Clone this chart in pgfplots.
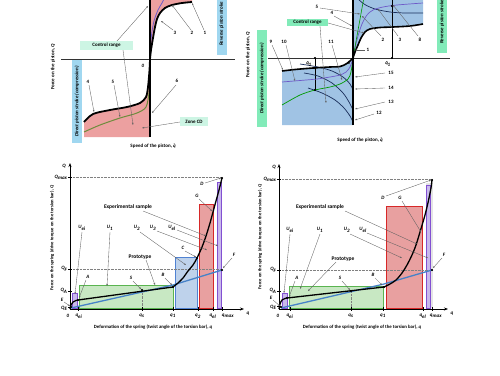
\documentclass[border=0pt]{standalone}
\usepackage{fontspec}
\setmainfont{Carlito}
\usepackage{pgfplots}
\pgfplotsset{compat=1.18}
\usetikzlibrary{arrows.meta}
\definecolor{pinkfill}{RGB}{236,160,160}
\definecolor{bluefill}{RGB}{160,195,228}
\definecolor{lblue}{RGB}{160,215,240}
\definecolor{mint}{RGB}{205,245,228}
\definecolor{mint2}{RGB}{130,235,185}
\definecolor{purp}{RGB}{110,90,200}
\definecolor{ogreen}{RGB}{110,140,60}
\definecolor{navy}{RGB}{25,45,90}
\definecolor{gfill}{RGB}{200,232,195}
\definecolor{gline}{RGB}{90,180,80}
\definecolor{bfill}{RGB}{190,210,235}
\definecolor{bline}{RGB}{80,130,210}
\definecolor{rfill}{RGB}{232,160,160}
\definecolor{rline}{RGB}{215,40,40}
\definecolor{pfill}{RGB}{200,185,235}
\definecolor{pline}{RGB}{130,80,210}
\definecolor{protoblue}{RGB}{70,130,200}
\newcommand{\sub}[2]{\textit{#1}\textsubscript{\textit{#2}}}
\newcommand{\qdot}{\textit{q}\kern-2.1pt\raisebox{2.7pt}{.}\kern0.5pt}
\pgfplotsset{panel/.style={hide axis, scale only axis, x=1pt, y=1pt, y dir=reverse, clip=false, anchor=north west}}
\tikzset{
 t/.style={font=\fontsize{5}{6}\selectfont\bfseries, inner sep=0.3pt},
 ti/.style={font=\fontsize{5}{6}\selectfont\bfseries\itshape, inner sep=0.3pt},
 ar/.style={draw=gray!75!black, line width=0.35pt, -{Stealth[length=2.2pt,width=1.6pt]}},
 axar/.style={line width=0.9pt, -{Stealth[length=4pt,width=3pt]}},
}
\begin{document}
\begin{tikzpicture}
\path[use as bounding box] (0,0) rectangle (500pt,-375pt);
\clip (0,0) rectangle (500pt,-375pt);
% ================= TOP LEFT =================
\begin{axis}[panel, xmin=0,xmax=250,ymin=0,ymax=150, at={(0pt,0pt)}]
\addplot[draw=none, fill=pinkfill] coordinates {(150,59)(151,50)(153,38)(155,27)(157,19)(160,13)(165,8)(172,5)(182,3)(192,2)(193,-10)(150,-10)} -- cycle;
\addplot[draw=none, fill=pinkfill] coordinates {(84,122)(93,114)(110,110)(127,107)(140,103)(146,97)(148,87)(149.5,70)(150,59)(150,137)(84,137)} -- cycle;
\addplot[black!80, line width=0.5pt] coordinates {(61,59)(235,59)};
\addplot[ogreen, line width=1pt, smooth] coordinates {(84,132)(100,125)(120,118)(137,113)(146,107)(149,93)(150,80)};
\addplot[purp, line width=0.8pt, smooth] coordinates {(150.5,48)(151.5,35)(154,21)(158,10)(162,3)(165,-3)};
\addplot[black, line width=1.8pt, smooth] coordinates {(84,122)(93,114)(110,110)(127,107)(140,103)(146,97)(148,87)(149.5,70)(150,59)};
\addplot[black, line width=1.8pt, smooth] coordinates {(150,59)(151,50)(153,38)(155,27)(157,19)(160,13)(165,8)(172,5)(182,3)(192,2)};
\addplot[black, line width=1.4pt] coordinates {(150,-5)(150,137)};
\node[t] at (205,33) {1}; \draw[ar] (204,30) -- (192,3);
\node[t] at (192,33) {2}; \draw[ar] (191,30) -- (172,5);
\node[t] at (175,33) {3}; \draw[ar] (173,30) -- (161,21);
\node[t] at (88,82) {4}; \draw[ar] (89,85) -- (94,112);
\node[t] at (113,82) {5}; \draw[ar] (114,85) -- (120,117);
\node[t] at (177,81) {6}; \draw[ar] (176,85) -- (152,113);
\node[ti] at (143,66) {0};
\draw[ar] (117,41) -- (148,6);
\draw[ar] (123,50) -- (133,125);
\node[t, fill=mint, minimum width=53pt, minimum height=9pt] at (106.5,45.5) {Control range};
\draw[ar] (180,122) -- (142,128);
\node[t, fill=mint, minimum width=28pt, minimum height=9pt] at (194,121.5) {Zone CD};
\node[ti, rotate=90, fill=lblue, minimum width=62pt, minimum height=10pt] at (221.5,24) {Reverse piston stroke};
\node[ti, rotate=90, fill=lblue, minimum width=83pt, minimum height=10pt] at (77,101.5) {Direct piston stroke (compression)};
\node[t, rotate=90] at (53,67) {Force on the piston, \textit{Q}};
\node[t] at (153,146) {Speed of the piston, \qdot};
\end{axis}
% ================= TOP RIGHT =================
\begin{axis}[panel, xmin=250,xmax=500,ymin=0,ymax=150, at={(250pt,0pt)}]
\addplot[draw=none, fill=bluefill] coordinates {(282,71)(295,69.5)(313,68)(330,67)(340,66.5)(346,64)(350,61)(353,58)(353,125)(282,125)} -- cycle;
\addplot[draw=none, fill=bluefill] coordinates {(353,58)(355,52)(358,45)(361,38)(365,32)(370,29)(380,27.5)(393,27)(410,26)(423,24)(423,-10)(353,-10)} -- cycle;
\addplot[black!80, line width=0.5pt] coordinates {(268,58)(450,58)};
\addplot[black, line width=0.5pt] coordinates {(392,-5)(392,58)};
\addplot[black, line width=0.5pt] coordinates {(315,58)(315,90)};
\addplot[navy, line width=0.7pt, smooth] coordinates {(300,64)(318,67)(332,71)(343,77)(350,84)(353,90)};
\addplot[navy, line width=0.7pt, smooth] coordinates {(304,73)(318,76)(332,83)(343,93)(349,102)(353,110)};
\addplot[navy, line width=0.7pt, smooth] coordinates {(308,88)(322,93)(335,100)(344,108)(350,116)(353,122)};
\addplot[navy, line width=0.7pt, smooth] coordinates {(356,-3)(364,4)(375,9)(390,12)(405,13)(423,13)};
\addplot[purp, line width=0.7pt, smooth] coordinates {(353,58)(355,48)(358,36)(362,24)(367,15)(373,10)(383,7)(397,5)(423,3)};
\addplot[green!60!black, line width=0.6pt] coordinates {(353,58)(364,-3)};
\addplot[purp, line width=0.7pt, smooth] coordinates {(282,82)(300,80.5)(317,79)(330,77)(340,75)(346,72)(350,67)(353,58)};
\addplot[green!60!black, line width=0.7pt, smooth] coordinates {(282,105)(300,95)(315,90)(330,87)(340,84)(348,79)(351,72)(353,58)};
\addplot[black, line width=1.6pt, smooth] coordinates {(282,71)(295,69.5)(313,68)(330,67)(340,66.5)(346,64)(350,61)(353,58)};
\addplot[black, line width=1.6pt, smooth] coordinates {(353,58)(355,52)(358,45)(361,38)(365,32)(370,29)(380,27.5)(393,27)(410,26)(423,24)};
\addplot[black, line width=1.4pt] coordinates {(353,-5)(353,125)};
\addplot[only marks, mark=*, mark size=0.8pt, black] coordinates {(392,58)(392,6)(315,58)(315,68)(315,90)};
\node[ti] at (349,63) {0};
\node[ti] at (388,64) {\qdot\textsubscript{1}};
\node[ti] at (309,64) {\qdot\textsubscript{1}};
\node[t] at (317,7) {5}; \draw[ar] (320,8) -- (360,14);
\node[t] at (332,13) {4}; \draw[ar] (334,16) -- (352,26);
\draw[ar] (328,23) -- (364,33);
\draw[ar] (320,26) -- (326,103);
\node[t, fill=mint2, minimum width=41pt, minimum height=7pt] at (307.5,22.5) {Control range};
\node[t] at (368,50) {1}; \draw[ar] (365,50) -- (355,50);
\node[t] at (383,40) {2}; \draw[ar] (381,36) -- (362,16);
\node[t] at (400,40) {3}; \draw[ar] (398,36) -- (378,9);
\node[t] at (420,40) {8}; \draw[ar] (418,36) -- (393,5);
\node[t] at (271,42) {9}; \draw[ar] (272,45) -- (283,70);
\node[t] at (284,42) {10}; \draw[ar] (286,45) -- (295,81);
\node[t] at (331,42) {11}; \draw[ar] (332,45) -- (342,80);
\node[t] at (391,73) {15}; \draw[ar] (385,73) -- (355,77);
\node[t] at (391,88) {14}; \draw[ar] (385,88) -- (355,89);
\node[t] at (391,102) {13}; \draw[ar] (385,102) -- (355,109);
\node[t] at (379,113) {12}; \draw[ar] (374,114) -- (355,120);
\node[ti, rotate=90, fill=mint2, minimum width=97pt, minimum height=10pt] at (262,78.5) {Direct piston stroke (compression)};
\node[ti, rotate=90, fill=mint2, minimum width=62pt, minimum height=10pt] at (442,22) {Reverse piston stroke};
\node[t] at (360,140) {Speed of the piston, \qdot};
\node[t, rotate=90] at (248,55) {Force on the piston, \textit{Q}};
\end{axis}
% ================= BOTTOM LEFT =================
\begin{axis}[panel, xmin=0,xmax=250,ymin=150,ymax=375, at={(0pt,-150pt)}]
\addplot[fill=gfill, draw=gline, line width=0.6pt] coordinates {(79,285)(173,285)(173,308)(79,308)} -- cycle;
\addplot[fill=bfill, draw=bline, line width=0.6pt] coordinates {(175,257)(197,257)(197,308)(175,308)} -- cycle;
\addplot[fill=rfill, draw=rline, line width=0.6pt] coordinates {(199,204)(213,204)(213,308)(199,308)} -- cycle;
\addplot[fill=pfill, draw=pline, line width=0.6pt] coordinates {(217,182)(221,182)(221,308)(217,308)} -- cycle;
\addplot[fill=pfill, draw=pline, line width=0.6pt] coordinates {(72,293)(77,293)(77,308)(72,308)} -- cycle;
\addplot[gray, densely dotted, line width=0.4pt] coordinates {(70,177)(222,177)};
\addplot[gray, densely dotted, line width=0.4pt] coordinates {(70,269)(222,269)};
\addplot[gray, densely dotted, line width=0.4pt] coordinates {(142,290)(142,309)};
\draw[axar] (70,309) -- (70,163);
\draw[axar] (70,309) -- (244,309);
\draw[line width=0.5pt] (68,177)--(72,177) (68,269)--(72,269) (68,291)--(72,291) (68,307)--(72,307)
  (78,307)--(78,311) (142,307)--(142,311) (173,307)--(173,311) (198,307)--(198,311) (213,307)--(213,311) (222,307)--(222,311);
\addplot[protoblue, line width=1.3pt] coordinates {(71,308)(173,285)(222,270)};
\addplot[black, line width=1.3pt, smooth] coordinates {(70,309)(71,305)(73,302)(76,300.5)(78,300)};
\addplot[black, line width=1.3pt] coordinates {(78,300)(173,287)};
\addplot[black, line width=1.3pt, smooth] coordinates {(173,287)(178,283)(183,278)(188,271)(193,265)(197,258)(202,247)(206,236)(210,223)(213,212)(216,201)(219,190)(222,178)};
\addplot[only marks, mark=*, mark size=0.9pt, black] coordinates {(78,300)(142,290)(173,287)(197,258)(222,178)(222,270)(71,307)};
\node[ti] at (64,166) {Q};
\node[ti, anchor=east] at (68,177) {\sub{Q}{max}};
\node[ti, anchor=east] at (68,269) {\sub{Q}{F}};
\node[ti, anchor=east] at (68,291) {\sub{Q}{A}};
\node[ti, anchor=east] at (68,308.5) {\sub{Q}{E}};
\node[ti] at (62,300) {E}; \draw[ar] (64,302) -- (70,306);
\node[ti] at (68,316) {0};
\node[ti] at (79,316) {\sub{q}{ei}};
\node[ti] at (142,316) {\sub{q}{s}};
\node[ti] at (173,316) {\sub{q}{1}};
\node[ti] at (198,316) {\sub{q}{2}};
\node[ti] at (213,316) {\sub{q}{el}};
\node[ti] at (228,316) {\sub{q}{max}};
\node[ti] at (248,314) {q};
\node[t, font=\fontsize{5.5}{6}\selectfont\bfseries] at (128,207) {Experimental sample};
\draw[ar] (143,211) -- (206,236);
\node[ti] at (82,228) {\sub{U}{ei}}; \draw[ar] (82,232) -- (75,294);
\node[ti] at (110,228) {\sub{U}{1}}; \draw[ar] (110,232) -- (107,286);
\node[ti] at (137,228) {\sub{U}{2}}; \draw[ar] (140,232) -- (186,265);
\node[ti] at (153,228) {\sub{U}{3}}; \draw[ar] (157,231) -- (207,250);
\node[ti] at (172,228) {\sub{U}{el}}; \draw[ar] (177,230) -- (218,246);
\node[t, font=\fontsize{5.5}{6}\selectfont\bfseries] at (140,257) {Prototype};
\draw[ar] (146,260) -- (155,285);
\node[ti] at (88,277) {A}; \draw[ar] (86,280) -- (79,298);
\node[ti] at (131,278) {S}; \draw[ar] (133,281) -- (141,289);
\node[ti] at (163,275) {B}; \draw[ar] (165,278) -- (172,285);
\node[ti] at (183,248) {C}; \draw[ar] (185,251) -- (196,257);
\node[ti] at (197,196) {G}; \draw[ar] (199,199) -- (212,211);
\node[ti] at (202,184) {D}; \draw[ar] (205,183) -- (221,178);
\node[ti] at (234,255) {F}; \draw[ar] (232,258) -- (223,268);
\node[t, rotate=90, font=\fontsize{4.6}{5}\selectfont\bfseries] at (52,238) {Force on the spring (drive torque on the torsion bar), \textit{Q}};
\node[t, font=\fontsize{4.8}{5}\selectfont\bfseries] at (153,327) {Deformation of the spring (twist angle of the torsion bar), \textit{q}};
\end{axis}
% ================= BOTTOM RIGHT =================
\begin{axis}[panel, xmin=250,xmax=500,ymin=150,ymax=375, at={(250pt,-150pt)}]
\addplot[fill=gfill, draw=gline, line width=0.6pt] coordinates {(289,286)(383,286)(383,308)(289,308)} -- cycle;
\addplot[fill=rfill, draw=rline, line width=0.6pt] coordinates {(386,206)(422,206)(422,308)(386,308)} -- cycle;
\addplot[fill=gray!20, draw=none] coordinates {(426,183)(433,183)(433,308)(426,308)} -- cycle;
\addplot[fill=pfill, draw=pline, line width=0.6pt] coordinates {(426,185)(430,185)(430,308)(426,308)} -- cycle;
\addplot[fill=pfill, draw=pline, line width=0.6pt] coordinates {(282,293)(287,293)(287,308)(282,308)} -- cycle;
\addplot[gray, densely dotted, line width=0.4pt] coordinates {(279,179)(432,179)};
\addplot[gray, densely dotted, line width=0.4pt] coordinates {(279,270)(432,270)};
\addplot[gray, densely dotted, line width=0.4pt] coordinates {(351,291)(351,309)};
\draw[axar] (279,309) -- (279,164);
\draw[axar] (279,309) -- (448,309);
\draw[line width=0.5pt] (277,179)--(281,179) (277,270)--(281,270) (277,291)--(281,291) (277,306)--(281,306)
  (290,307)--(290,311) (351,307)--(351,311) (383,307)--(383,311) (423,307)--(423,311) (432,307)--(432,311);
\addplot[protoblue, line width=1.3pt] coordinates {(281,308)(384,284)(432,270)};
\addplot[black, line width=1.3pt, smooth] coordinates {(279,309)(280,304)(282,300)(285,298.5)(287,298)};
\addplot[black, line width=1.3pt] coordinates {(287,298)(384,287)};
\addplot[black, line width=1.3pt, smooth] coordinates {(384,287)(390,284)(396,280)(402,273)(407,265)(412,255)(416,245)(420,232)(423,222)(425,215)(427,207)(429,198)(431,188)(432,180)};
\addplot[only marks, mark=*, mark size=0.9pt, black] coordinates {(287,298)(351,291)(384,287)(432,180)(432,270)(281,307)};
\node[ti] at (274,167) {Q};
\node[ti, anchor=east] at (277,179) {\sub{Q}{max}};
\node[ti, anchor=east] at (277,270) {\sub{Q}{F}};
\node[ti, anchor=east] at (277,291) {\sub{Q}{A}};
\node[ti, anchor=east] at (277,307.5) {\sub{Q}{E}};
\node[ti] at (271,298) {E}; \draw[ar] (273,300) -- (280,306);
\node[ti] at (278,316) {0};
\node[ti] at (290,316) {\sub{q}{ei}};
\node[ti] at (351,316) {\sub{q}{s}};
\node[ti] at (383,316) {\sub{q}{1}};
\node[ti] at (423,316) {\sub{q}{el}};
\node[ti] at (436,316) {\sub{q}{max}};
\node[ti] at (452,314) {q};
\node[t, font=\fontsize{5.5}{6}\selectfont\bfseries] at (320,207) {Experimental sample};
\draw[ar] (345,211) -- (417,244);
\node[ti] at (290,230) {\sub{U}{ei}}; \draw[ar] (290,234) -- (284,293);
\node[ti] at (320,230) {\sub{U}{1}}; \draw[ar] (320,234) -- (300,289);
\node[ti] at (347,230) {\sub{U}{2}}; \draw[ar] (350,234) -- (402,258);
\node[ti] at (363,230) {\sub{U}{el}}; \draw[ar] (367,233) -- (428,258);
\node[t, font=\fontsize{5.5}{6}\selectfont\bfseries] at (343,259) {Prototype};
\draw[ar] (336,262) -- (308,291);
\node[ti] at (297,278) {A}; \draw[ar] (295,281) -- (289,297);
\node[ti] at (340,278) {S}; \draw[ar] (342,281) -- (350,290);
\node[ti] at (373,275) {B}; \draw[ar] (375,278) -- (382,285);
\node[ti] at (383,198) {D}; \draw[ar] (386,196) -- (431,180);
\node[ti] at (400,198) {G}; \draw[ar] (402,201) -- (421,232);
\node[ti] at (444,255) {F}; \draw[ar] (442,258) -- (433,268);
\node[t, rotate=90, font=\fontsize{4.6}{5}\selectfont\bfseries] at (260,237) {Force on the spring (drive torque on the torsion bar), \textit{Q}};
\node[t, font=\fontsize{4.8}{5}\selectfont\bfseries] at (362,327) {Deformation of the spring (twist angle of the torsion bar), \textit{q}};
\end{axis}
\end{tikzpicture}
\end{document}
